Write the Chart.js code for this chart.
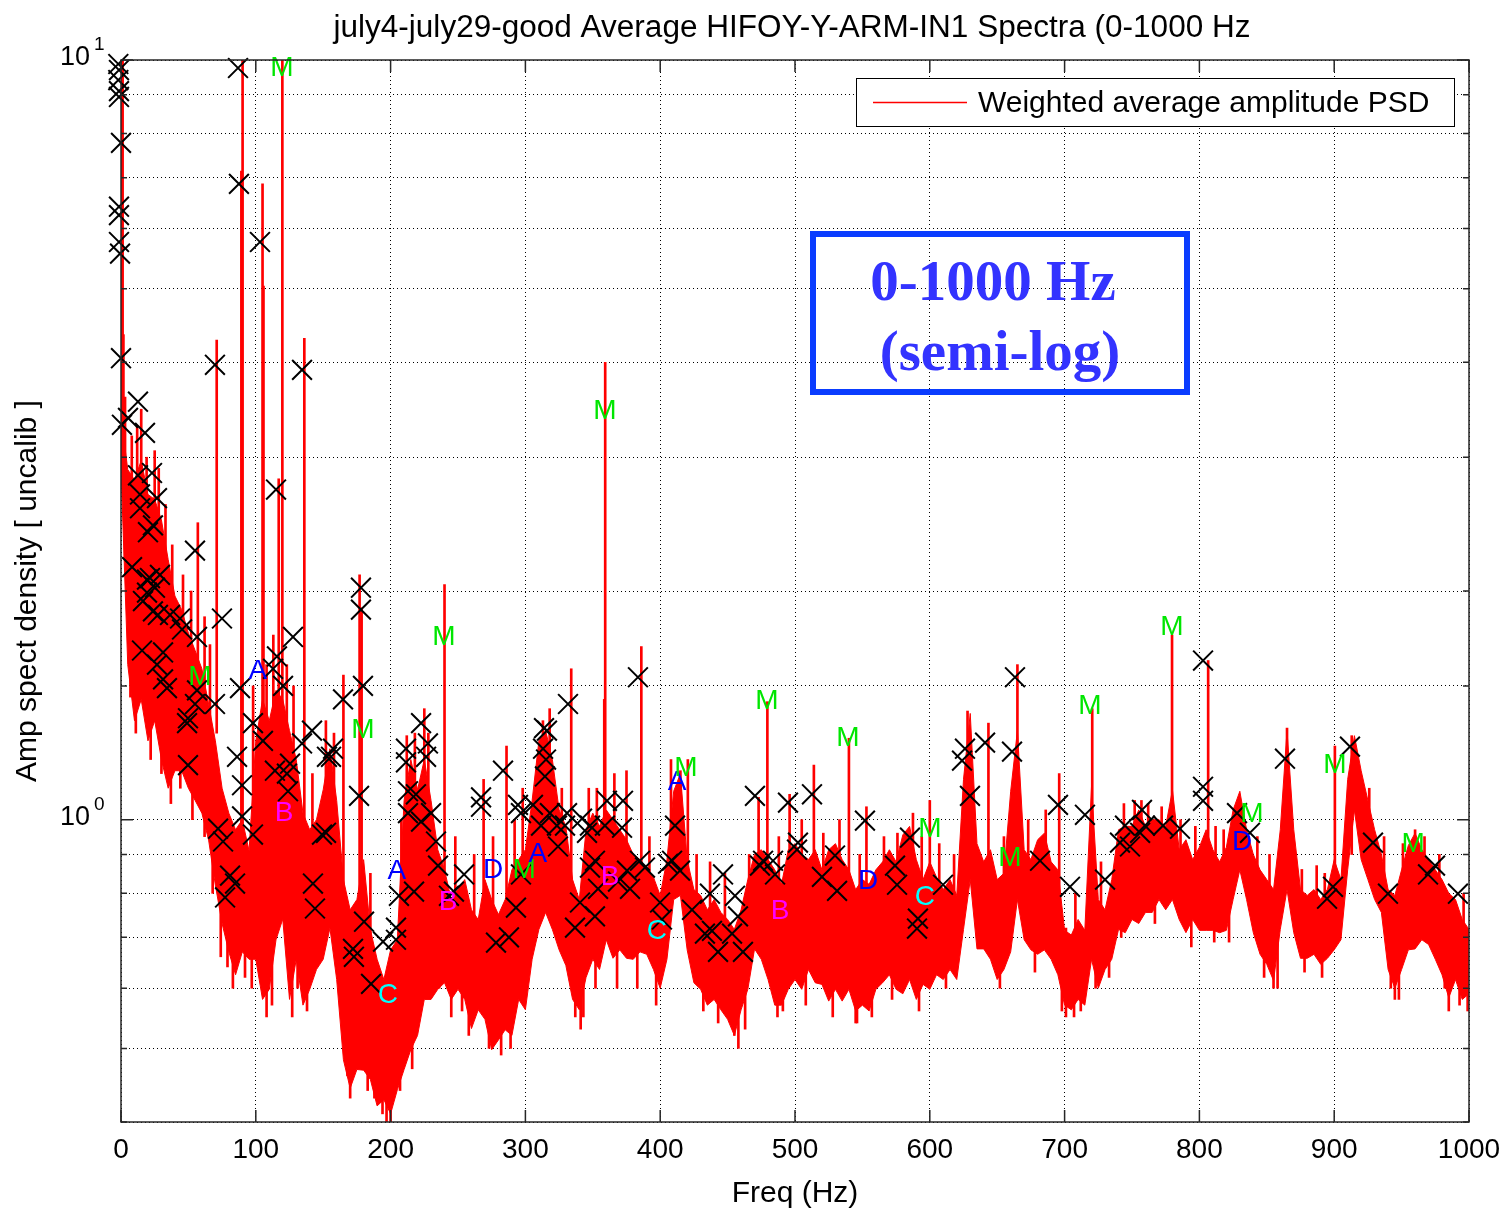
<!DOCTYPE html>
<html lang="en">
<head>
<meta charset="UTF-8">
<title>HIFOY-Y-ARM-IN1 Spectra</title>
<script src="https://cdn.jsdelivr.net/npm/chart.js"></script>
<style>
  body { margin: 0; background: #fff; }
  #wrap { width: 1507px; height: 1212px; }
</style>
</head>
<body>
<div id="wrap"><canvas id="psd" width="1507" height="1212"></canvas></div>
<script>
// Spectrum band, sampled every 5 Hz from 0 to 1000 Hz (top and bottom of the noisy trace)
const upperPSD = [
  3.4, 2.89, 2.80, 2.97, 2.68, 2.64, 2.48, 2.20, 1.97, 1.89,
  1.76, 1.67, 1.58, 1.42, 1.27, 1.10, 1.02, 0.97, 1.00, 0.91,
  1.27, 1.44, 1.35, 1.48, 1.44, 1.31, 1.20, 1.02, 0.97, 1.00,
  1.095, 1.24, 1.06, 0.834, 0.761, 0.785, 0.886, 0.717, 0.655, 0.616,
  0.674, 0.695, 1.06, 1.20, 1.095, 1.20, 1.06, 0.913, 0.859, 0.785,
  0.809, 0.834, 0.761, 0.739, 0.834, 0.785, 0.75, 0.785, 0.859, 0.886,
  0.913, 1.06, 1.27, 1.31, 1.20, 1.03, 0.98, 0.834, 0.785, 0.97,
  1.02, 0.98, 1.03, 1.00, 0.97, 0.941, 0.90, 0.886, 0.859, 0.84,
  0.795, 0.886, 1.09, 1.15, 0.886, 0.809, 0.795, 0.761, 0.785, 0.755,
  0.739, 0.717, 0.761, 0.834, 0.90, 0.913, 0.886, 0.859, 0.822, 0.913,
  0.93, 0.90, 0.886, 0.913, 0.859, 0.913, 0.93, 0.886, 0.859, 0.809,
  0.834, 0.822, 0.859, 0.88, 0.913, 0.88, 0.955, 0.98, 0.886, 0.834,
  0.88, 0.84, 0.809, 0.834, 0.795, 1.13, 1.38, 0.93, 0.88, 0.913,
  0.834, 0.85, 1.09, 1.31, 0.913, 0.886, 0.941, 0.96, 0.88, 0.859,
  0.715, 0.705, 0.739, 0.715, 1.11, 0.785, 0.761, 0.834, 0.97, 0.98,
  0.98, 1.03, 0.98, 1.00, 1.00, 0.98, 1.095, 0.913, 0.941, 0.886,
  0.92, 0.97, 0.913, 0.88, 0.92, 1.03, 1.09, 0.97, 0.90, 0.859,
  0.834, 0.809, 0.97, 1.31, 0.97, 0.809, 0.795, 0.809, 0.785, 0.81,
  0.886, 0.834, 1.13, 1.29, 1.16, 1.06, 0.97, 0.90, 0.809, 0.795,
  0.859, 0.925, 0.96, 0.913, 0.886, 0.859, 0.834, 0.80, 0.785, 0.739,
  0.717
];
const lowerPSD = [
  2.9, 1.60, 1.35, 1.44, 1.27, 1.35, 1.20, 1.10, 1.16, 1.16,
  1.10, 1.06, 1.02, 0.94, 0.82, 0.73, 0.67, 0.625, 0.67, 0.655,
  0.655, 0.58, 0.598, 0.695, 0.74, 0.58, 0.655, 0.57, 0.598, 0.635,
  0.655, 0.72, 0.616, 0.483, 0.443, 0.469, 0.468, 0.455, 0.42, 0.428,
  0.41, 0.441, 0.469, 0.498, 0.52, 0.58, 0.58, 0.598, 0.61, 0.58,
  0.598, 0.58, 0.531, 0.562, 0.546, 0.498, 0.513, 0.529, 0.52, 0.58,
  0.562, 0.655, 0.717, 0.755, 0.717, 0.674, 0.643, 0.58, 0.562, 0.62,
  0.655, 0.635, 0.695, 0.657, 0.674, 0.657, 0.655, 0.67, 0.665, 0.635,
  0.60, 0.655, 0.785, 0.795, 0.674, 0.61, 0.598, 0.57, 0.58, 0.562,
  0.546, 0.52, 0.562, 0.598, 0.676, 0.655, 0.616, 0.57, 0.57, 0.598,
  0.616, 0.598, 0.635, 0.61, 0.607, 0.577, 0.598, 0.577, 0.598, 0.56,
  0.57, 0.56, 0.598, 0.61, 0.625, 0.598, 0.59, 0.616, 0.58, 0.607,
  0.598, 0.625, 0.616, 0.635, 0.616, 0.717, 0.834, 0.676, 0.676, 0.655,
  0.616, 0.635, 0.67, 0.785, 0.695, 0.674, 0.665, 0.674, 0.655, 0.625,
  0.57, 0.562, 0.58, 0.57, 0.655, 0.60, 0.635, 0.655, 0.717, 0.71,
  0.739, 0.73, 0.755, 0.755, 0.785, 0.761, 0.785, 0.739, 0.71, 0.739,
  0.715, 0.715, 0.715, 0.71, 0.715, 0.785, 0.859, 0.785, 0.71, 0.665,
  0.645, 0.614, 0.717, 0.809, 0.71, 0.657, 0.657, 0.665, 0.645, 0.657,
  0.674, 0.695, 0.859, 1.03, 0.886, 0.834, 0.785, 0.755, 0.635, 0.60,
  0.635, 0.674, 0.676, 0.695, 0.685, 0.655, 0.625, 0.583, 0.616, 0.58,
  0.59
];
const freqs = upperPSD.map((_, i) => i * 5);

// Narrow lines: [freq Hz, bottom, top]
const spikes = [
  [0.5, 3.0, 10], [1.2, 3.0, 10], [1.8, 2.8, 4.35], [3, 2.2, 3.6], [15, 2.5, 3.47], [25, 2.4, 3.06],
  [57, 1.5, 2.46], [71, 1.3, 4.28], [89.3, 0.9, 7.14], [90.2, 0.9, 10], [105, 1.2, 6.87],
  [105.7, 1.2, 5.04], [117, 1.3, 2.81], [119.7, 1.2, 10], [136, 0.9, 4.30], [158, 0.9, 1.30],
  [165, 0.8, 1.55], [177, 0.8, 2.1], [178.5, 0.8, 1.9], [194, 0.41, 0.6], [200, 0.39, 0.62],
  [212, 0.75, 1.29], [225, 0.8, 1.40], [240, 0.75, 2.04], [269, 0.7, 1.13], [286, 0.7, 1.25],
  [313, 0.9, 1.35], [334, 0.75, 1.58], [358.5, 0.8, 1.44], [359.2, 0.8, 4.0], [375, 0.8, 1.16],
  [386, 0.8, 1.69], [415, 0.9, 1.16], [420.5, 0.85, 1.2], [473, 0.8, 1.07], [479.5, 0.8, 1.43],
  [496, 0.8, 1.08], [514, 0.8, 1.18], [540, 0.8, 1.28], [553, 0.8, 1.04], [587.5, 0.85, 1.02],
  [600, 0.8, 1.06], [628, 0.9, 1.39], [643.5, 0.85, 1.34], [665, 0.9, 1.60], [696, 0.8, 1.15],
  [720.5, 0.75, 1.40], [757, 0.9, 1.06], [779.7, 0.85, 1.75], [806.5, 0.8, 1.62], [865, 0.9, 1.32],
  [900.5, 0.8, 1.25], [913, 0.9, 1.29], [960, 0.8, 0.97],
  [170, 0.43, 0.6], [236, 0.6, 0.8], [343, 0.55, 0.75], [455, 0.52, 0.7], [545, 0.54, 0.7],
  [701, 0.55, 0.72], [855, 0.6, 0.75], [945, 0.58, 0.72], [985, 0.56, 0.72]
];

// Short noise excursions along the edges of the band: [freq Hz, bottom, top]
const fringe = [
  [8, 2.4, 3.2], [12, 2.4, 3.3], [19, 2.2, 3.0], [28, 2.0, 2.9], [33, 1.9, 2.6], [38, 1.8, 2.3],
  [46, 1.6, 2.1], [52, 1.5, 2.0], [62, 1.3, 1.85], [66, 1.2, 1.7],
  [7, 1.45, 2.0], [11, 1.3, 1.8], [22, 1.2, 1.6], [30, 1.15, 1.5], [37, 1.05, 1.4], [44, 1.1, 1.4],
  [53, 1.0, 1.3], [62, 0.95, 1.2], [68, 0.8, 1.0], [74, 0.66, 0.9], [79, 0.64, 0.8], [83, 0.6, 0.8],
  [92, 0.62, 0.8], [97, 0.6, 0.8], [108, 0.55, 0.8], [112, 0.57, 0.8], [127, 0.55, 0.8],
  [131, 0.6, 0.8], [138, 0.56, 0.75],
  [98, 1.0, 1.5], [108, 1.1, 1.6], [113, 1.1, 1.75], [123, 1.1, 1.6], [128, 1.0, 1.5],
  [142, 0.8, 1.15], [152, 0.9, 1.35],
  [185, 0.6, 0.85], [208, 0.7, 1.0], [218, 0.9, 1.3], [228, 0.9, 1.3], [248, 0.7, 0.95],
  [262, 0.65, 0.9], [276, 0.7, 0.95], [292, 0.7, 1.0], [298, 0.75, 1.1],
  [168, 0.46, 0.6], [183, 0.44, 0.6], [188, 0.43, 0.6], [197, 0.40, 0.55], [207, 0.44, 0.6],
  [216, 0.47, 0.6], [245, 0.55, 0.7], [253, 0.56, 0.7], [258, 0.52, 0.7], [273, 0.5, 0.65],
  [282, 0.49, 0.65], [289, 0.5, 0.65],
  [318, 1.0, 1.4], [327, 0.85, 1.1], [347, 0.85, 1.1], [353, 0.85, 1.1], [366, 0.85, 1.15],
  [392, 0.75, 0.95], [408, 0.85, 1.2], [427, 0.7, 0.9], [437, 0.7, 0.88], [448, 0.7, 0.85],
  [466, 0.75, 0.9], [488, 0.75, 0.95],
  [337, 0.55, 0.7], [341, 0.53, 0.7], [352, 0.6, 0.75], [368, 0.6, 0.75], [383, 0.6, 0.75],
  [397, 0.57, 0.7], [432, 0.56, 0.7], [443, 0.54, 0.7], [458, 0.5, 0.65], [463, 0.53, 0.65],
  [487, 0.55, 0.7], [491, 0.56, 0.7],
  [505, 0.8, 1.0], [521, 0.75, 0.96], [533, 0.8, 1.0], [548, 0.7, 0.9], [566, 0.75, 0.95],
  [576, 0.75, 0.96], [594, 0.75, 0.95], [607, 0.75, 0.93], [618, 0.7, 0.9], [655, 0.75, 0.95],
  [673, 0.8, 1.0], [686, 0.8, 1.03],
  [508, 0.57, 0.7], [528, 0.55, 0.7], [546, 0.54, 0.7], [557, 0.55, 0.7], [572, 0.58, 0.7],
  [592, 0.56, 0.7], [612, 0.6, 0.72], [652, 0.6, 0.72], [678, 0.63, 0.75], [698, 0.56, 0.7],
  [707, 0.55, 0.65], [712, 0.56, 0.65],
  [708, 0.65, 0.8], [727, 0.7, 0.88], [744, 0.85, 1.05], [752, 0.85, 1.06], [762, 0.85, 1.05],
  [772, 0.85, 1.04], [786, 0.8, 1.0], [797, 0.8, 0.98], [812, 0.8, 0.98], [818, 0.8, 0.97],
  [843, 0.75, 0.95], [852, 0.72, 0.9], [876, 0.7, 0.86], [887, 0.7, 0.87], [893, 0.7, 0.85],
  [926, 0.9, 1.1], [937, 0.8, 0.95], [951, 0.75, 0.93], [967, 0.75, 0.95], [978, 0.72, 0.9],
  [996, 0.65, 0.8],
  [723, 0.6, 0.72], [733, 0.62, 0.72], [742, 0.7, 0.8], [767, 0.73, 0.85], [794, 0.68, 0.8],
  [811, 0.69, 0.8], [822, 0.69, 0.8], [848, 0.62, 0.75], [858, 0.6, 0.72], [878, 0.63, 0.72],
  [891, 0.62, 0.72], [942, 0.6, 0.7], [948, 0.58, 0.7], [982, 0.6, 0.7], [993, 0.57, 0.68],
  [999, 0.56, 0.66]
];

// Black X marks: [freq Hz, amplitude]
const peakMarks = [
  [-2, 9.88], [-1.5, 9.70], [-2, 9.41], [-1.5, 9.10], [-1.5, 8.94], [0, 7.78], [-1.5, 6.41], [-1.5, 6.25],
  [-1.5, 5.76], [-0.7, 5.56], [0, 4.05], [0.7, 3.31], [5.2, 3.38], [12.6, 3.55], [17.8, 3.23],
  [86.8, 9.76], [87.5, 6.87], [103.1, 5.76], [69.7, 3.97], [134.3, 3.91], [115, 2.72], [54.9, 2.26],
  [12.6, 2.84], [23, 2.86], [14.1, 2.68], [26.7, 2.65], [14.1, 2.57], [23.7, 2.44], [20, 2.39],
  [8.2, 2.15], [19.3, 2.07], [25.2, 2.02], [28.9, 2.10], [21.5, 2.08],
  [19.3, 1.99], [16.3, 1.94], [23.7, 1.88], [27.4, 1.86], [36.4, 1.86], [43.8, 1.84], [45.3, 1.78],
  [56.4, 1.74], [74.9, 1.84], [127.6, 1.74], [15.6, 1.67], [31.2, 1.66], [26.7, 1.60], [31.2, 1.53],
  [34.1, 1.49], [115.7, 1.64], [112.8, 1.58], [120.2, 1.50], [88.3, 1.49], [56.4, 1.48], [54.9, 1.42],
  [69.7, 1.42], [49.7, 1.36], [49, 1.34], [97.9, 1.34], [105.3, 1.27], [86.1, 1.21], [141.7, 1.31],
  [134.3, 1.26], [152.8, 1.21], [49.7, 1.18], [114.2, 1.16], [125.4, 1.185], [123.1, 1.15],
  [89.8, 1.11], [123.9, 1.09], [89.8, 1.01], [97.9, 0.956], [72, 0.973], [75.7, 0.936],
  [149.1, 0.956], [80.9, 0.844], [84.6, 0.824], [77.2, 0.79], [142.4, 0.824], [143.9, 0.764],
  [152.1, 0.961], [155.8, 1.21], [157.3, 1.24], [178, 2.02], [178, 1.89], [179.5, 1.50], [164.7, 1.44],
  [176.6, 1.075], [180.3, 0.734], [172.1, 0.676], [172.8, 0.66], [185.5, 0.608], [194.4, 0.691],
  [204, 0.721], [204, 0.695], [206.2, 0.794], [217.4, 0.804], [211.4, 1.24], [211.4, 1.19],
  [212.9, 1.09], [212.9, 1.02], [218.8, 1.08], [222.6, 0.994], [222.6, 1.34], [227.7, 1.26],
  [226.3, 1.21], [230, 1.02], [233.7, 0.936], [235.2, 0.87], [243.3, 0.794], [247, 0.804],
  [254.5, 0.847], [267.1, 1.07], [267.1, 1.04], [283.4, 1.16], [278.2, 0.689], [287.8, 0.70],
  [296.7, 0.847], [294.5, 1.046], [296.7, 1.02], [305.6, 1.046], [311.6, 0.982], [293, 0.766],
  [313.8, 1.32], [313.1, 1.24], [315.3, 1.20], [314.5, 1.14],
  [316, 1.31], [331.6, 1.42], [318.2, 1.02], [323.4, 0.982], [324.2, 0.922], [330.9, 1.02],
  [329.4, 0.982], [342, 1.003], [345.7, 0.961], [347.9, 0.982], [347.9, 0.865], [351.6, 0.883],
  [353.9, 0.811], [340.5, 0.778], [336.8, 0.721], [351.6, 0.746], [360.5, 1.059], [359, 0.982],
  [372.4, 1.059], [371.7, 0.976], [368.7, 0.829], [377.6, 0.811], [375.4, 0.857], [385, 0.883],
  [388.7, 0.865], [399.9, 0.778], [401.3, 0.739], [383.5, 1.54], [411, 0.982], [408.8, 0.883],
  [414.7, 0.857], [405.8, 0.875], [423.6, 0.761], [436.9, 0.799], [433.2, 0.708], [438.4, 0.714],
  [442.9, 0.67], [446.6, 0.847], [455.5, 0.794], [457.7, 0.746], [453.3, 0.708], [461.4, 0.67],
  [470.3, 1.075], [474, 0.87],
  [476.3, 0.883], [483.7, 0.883], [485.2, 0.847], [494.8, 1.053], [502.2, 0.933], [501.5, 0.913],
  [512.6, 1.08], [520, 0.841], [529.7, 0.897], [531.2, 0.806], [551.9, 0.997], [574.2, 0.87],
  [575.7, 0.821], [585.3, 0.947], [591.2, 0.741], [590.5, 0.719], [609.8, 0.821], [626.1, 1.24],
  [623.9, 1.196], [629.8, 1.075], [641, 1.263],
  [661, 1.229], [663.2, 1.54], [681.8, 0.883], [695.1, 1.046], [704, 0.816], [715.1, 1.015],
  [730, 0.834], [741.1, 0.933], [744.8, 0.982], [748.5, 0.922], [756, 0.961], [757.4, 1.03],
  [759.6, 0.982], [773, 0.982], [785.6, 0.973], [802.7, 1.62], [802.7, 1.105], [802.7, 1.059],
  [827.9, 1.02], [837.5, 0.961], [863.5, 1.203], [894.7, 0.787], [899.1, 0.816], [911.7, 1.248],
  [928.8, 0.933], [939.9, 0.799], [969.6, 0.847], [974.8, 0.87], [991.8, 0.799]
];

// Line identification letters: [letter, freq Hz, amplitude]
const lineTags = [
  ['M', 119.4, 9.74], ['M', 58.6, 1.54], ['A', 101.6, 1.57], ['B', 121, 1.02], ['M', 179.5, 1.31],
  ['M', 239.6, 1.74], ['M', 359, 3.45], ['A', 204.7, 0.854], ['C', 198, 0.587], ['D', 276, 0.859],
  ['M', 299, 0.859], ['A', 309.3, 0.90], ['B', 242.6, 0.778], ['B', 362.8, 0.841], ['C', 397.6, 0.714],
  ['A', 412.5, 1.12], ['M', 419.1, 1.17], ['B', 488.9, 0.757], ['M', 479.2, 1.43], ['M', 539.3, 1.28],
  ['D', 554.2, 0.829], ['C', 596.4, 0.79], ['M', 600.1, 0.97], ['M', 659.5, 0.889], ['M', 718.8, 1.41],
  ['M', 779.7, 1.79], ['D', 831.6, 0.933], ['M', 839, 1.015], ['M', 900.6, 1.18], ['M', 958.5, 0.927]
];
const tagColors = { M: '#00e600', A: '#0000ff', B: '#ff00ff', C: '#00ffff', D: '#0000ff' };

const xTicks = [0, 100, 200, 300, 400, 500, 600, 700, 800, 900, 1000];
const yMajor = [1, 10];

const FONT = '"Liberation Sans", Arial, sans-serif';
const RED = '#ff0000';

const overlay = {
  id: 'overlay',
  afterDatasetsDraw(chart) {
    const { ctx, scales: { x, y } } = chart;
    ctx.save();
    ctx.font = '28px ' + FONT;
    ctx.textAlign = 'center';
    ctx.textBaseline = 'middle';
    lineTags.forEach(([t, f, v]) => {
      ctx.fillStyle = tagColors[t];
      ctx.fillText(t, x.getPixelForValue(f), y.getPixelForValue(v));
    });
    ctx.restore();
  },
  afterDraw(chart) {
    const { ctx, chartArea: a, scales: { x, y } } = chart;
    ctx.save();

    // axes box and inner ticks
    ctx.strokeStyle = '#262626';
    ctx.lineWidth = 1.5;
    ctx.strokeRect(a.left, a.top, a.right - a.left, a.bottom - a.top);
    ctx.beginPath();
    xTicks.forEach(v => {
      const px = x.getPixelForValue(v);
      ctx.moveTo(px, a.bottom); ctx.lineTo(px, a.bottom - 12);
      ctx.moveTo(px, a.top); ctx.lineTo(px, a.top + 12);
    });
    y.ticks.forEach(t => {
      const py = y.getPixelForValue(t.value);
      const len = yMajor.includes(t.value) ? 12 : 6;
      ctx.moveTo(a.left, py); ctx.lineTo(a.left + len, py);
      ctx.moveTo(a.right, py); ctx.lineTo(a.right - len, py);
    });
    ctx.stroke();

    // y tick labels 10^0, 10^1
    ctx.fillStyle = '#000';
    ctx.textBaseline = 'middle';
    yMajor.forEach((v, i) => {
      const py = y.getPixelForValue(v);
      ctx.font = '27px ' + FONT;
      ctx.textAlign = 'right';
      ctx.fillText('10', a.left - 31, py - 2);
      ctx.font = '19px ' + FONT;
      ctx.textAlign = 'left';
      ctx.fillText(String(i), a.left - 27, py - 15);
    });

    // title
    const title = 'july4-july29-good Average HIFOY-Y-ARM-IN1 Spectra (0-1000 Hz';
    ctx.font = '31px ' + FONT;
    ctx.textAlign = 'center';
    ctx.textBaseline = 'alphabetic';
    const w = ctx.measureText(title).width;
    ctx.save();
    ctx.translate(792, 37);
    ctx.scale(917 / w, 1);
    ctx.fillText(title, 0, 0);
    ctx.restore();

    // legend
    ctx.fillStyle = '#fff';
    ctx.fillRect(856, 78, 599, 49);
    ctx.strokeStyle = '#000';
    ctx.lineWidth = 1;
    ctx.strokeRect(856.5, 78.5, 598, 48);
    ctx.strokeStyle = RED;
    ctx.lineWidth = 1.5;
    ctx.beginPath(); ctx.moveTo(873, 102.5); ctx.lineTo(967, 102.5); ctx.stroke();
    ctx.fillStyle = '#000';
    ctx.font = '30px ' + FONT;
    ctx.textAlign = 'left';
    ctx.textBaseline = 'middle';
    ctx.fillText(chart.data.datasets[2].label, 978, 104);

    // range note box
    ctx.strokeStyle = '#0a3cff';
    ctx.lineWidth = 6;
    ctx.strokeRect(813, 234, 374, 158);
    ctx.fillStyle = '#3333ff';
    ctx.font = 'bold 57px "Liberation Serif", "Times New Roman", serif';
    ctx.textAlign = 'center';
    ctx.textBaseline = 'alphabetic';
    ctx.fillText('0-1000 Hz', 993, 300);
    ctx.fillText('(semi-log)', 1000, 370);
    ctx.restore();
  }
};

const gridOpts = { color: '#000', lineWidth: 1, drawTicks: false, offset: false };
const borderOpts = { display: false, dash: [1, 3] };

new Chart(document.getElementById('psd'), {
  type: 'line',
  data: {
    datasets: [
      {
        label: 'peaks',
        data: peakMarks.map(p => ({ x: p[0], y: p[1] })),
        showLine: false,
        pointStyle: 'crossRot',
        pointRadius: 14,
        pointBorderWidth: 2,
        pointBorderColor: '#000',
        clip: false,
        order: 0
      },
      {
        type: 'bar',
        label: 'lines',
        data: spikes.concat(fringe).map(s => ({ x: s[0], y: [s[1], s[2]] })),
        backgroundColor: RED,
        barThickness: 2,
        order: 1
      },
      {
        label: 'Weighted average amplitude PSD',
        data: freqs.map((f, i) => ({ x: f, y: upperPSD[i] })),
        borderColor: RED,
        borderWidth: 1,
        pointRadius: 0,
        fill: false,
        order: 2
      },
      {
        label: 'band low',
        data: freqs.map((f, i) => ({ x: f, y: lowerPSD[i] })),
        borderColor: RED,
        borderWidth: 1,
        backgroundColor: RED,
        pointRadius: 0,
        fill: '-1',
        order: 2
      }
    ]
  },
  options: {
    responsive: false,
    animation: false,
    layout: { padding: { left: 0, right: 38, top: 60, bottom: 0 } },
    plugins: {
      legend: { display: false },
      tooltip: { enabled: false },
      title: { display: false }
    },
    scales: {
      x: {
        type: 'linear',
        min: 0,
        max: 1000,
        offset: false,
        afterBuildTicks: s => { s.ticks = xTicks.map(v => ({ value: v })); },
        ticks: {
          font: { size: 28, family: FONT }, color: '#000', padding: 11, maxRotation: 0, autoSkip: false,
          callback: v => String(v)
        },
        grid: gridOpts,
        border: borderOpts,
        title: { display: true, text: 'Freq (Hz)', color: '#000', font: { size: 30, family: FONT }, padding: { top: 0, bottom: 0 } },
        afterFit: s => { s.height = 90; s.paddingLeft = 0; s.paddingRight = 0; }
      },
      y: {
        type: 'logarithmic',
        min: 0.4,
        max: 10,
        ticks: { callback: () => '', autoSkip: false },
        grid: gridOpts,
        border: borderOpts,
        title: { display: true, text: 'Amp spect density [ uncalib ]', color: '#000', font: { size: 30, family: FONT }, padding: { top: 10, bottom: 0 } },
        afterFit: s => { s.width = 121; }
      }
    }
  },
  plugins: [overlay]
});
</script>
</body>
</html>
